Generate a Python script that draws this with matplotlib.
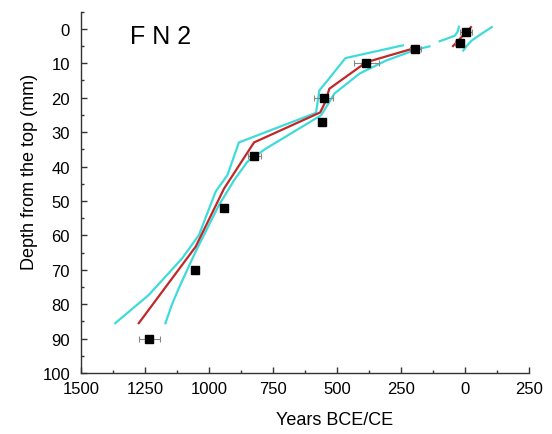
import matplotlib
matplotlib.use("Agg")
import matplotlib.pyplot as plt
from matplotlib.ticker import MultipleLocator, FuncFormatter

plt.rcParams['font.family'] = ['Liberation Sans', 'DejaVu Sans']

# dated samples (years: BCE negative, CE positive; depth in mm)
sample_years = [3, -22, -195, -386, -553, -560, -824, -942, -1055, -1234]
sample_depth = [1, 4, 6, 10, 20, 27, 36.8, 52, 70, 90]
sample_err = [24, 18, 20, 48, 38, 0, 26, 0, 0, 41]

# age model, lower section
model_years = [-1275, -1053, -942, -825, -567, -547, -531, -387, -198]
model_depth = [85.5, 63.3, 46.4, 33, 24.3, 21.3, 17.4, 9.7, 5.6]
# age model, upper section
model2_years = [-48, 22]
model2_depth = [5.0, -0.5]

# confidence bounds, lower section
old_years = [-1367, -1236, -1106, -1040, -975, -929, -884, -583, -570, -538, -468, -244]
old_depth = [85.5, 77.3, 66.7, 59.9, 47.3, 42.5, 33, 24.4, 17.9, 15, 8.5, 4.8]
young_years = [-1171, -1145, -1119, -1053, -1001, -962, -903, -851, -779, -563, -511, -413, -309, -191, -140]
young_depth = [85.5, 80, 75.4, 64.7, 57, 51.2, 44, 38.6, 34.8, 25.1, 18.8, 13, 9.2, 6, 5.1]
# confidence bounds, upper section
old2_years = [-100, -70, -41, -30, -25]
old2_depth = [3.6, 2.8, 2.0, 0.8, -0.6]
young2_years = [-8, 5, 25, 60, 103]
young2_depth = [6.3, 5.0, 3.4, 1.6, -0.5]

fig = plt.figure(figsize=(5.52, 4.35), dpi=100)
ax = fig.add_axes([0.147, 0.140, 0.812, 0.831])

cyan = '#3fdbdb'
red = '#c0282a'
ax.plot(old_years, old_depth, color=cyan, lw=1.6)
ax.plot(young_years, young_depth, color=cyan, lw=1.6)
ax.plot(old2_years, old2_depth, color=cyan, lw=1.6)
ax.plot(young2_years, young2_depth, color=cyan, lw=1.6)
ax.plot(model_years, model_depth, color=red, lw=1.6)
ax.plot(model2_years, model2_depth, color=red, lw=1.6)

ax.errorbar(sample_years, sample_depth, xerr=sample_err, fmt='s', color='black',
            ms=5.5, ecolor='#888888', elinewidth=0.8, capsize=2, capthick=0.8, zorder=5)

ax.set_xlim(-1500, 250)
ax.set_ylim(100, -5)
ax.xaxis.set_major_locator(MultipleLocator(250))
ax.xaxis.set_minor_locator(MultipleLocator(125))
ax.yaxis.set_major_locator(MultipleLocator(10))
ax.yaxis.set_minor_locator(MultipleLocator(5))
ax.xaxis.set_major_formatter(FuncFormatter(lambda v, p: f"{abs(int(v))}"))

for s in ['top', 'right']:
    ax.spines[s].set_visible(False)
for s in ['left', 'bottom']:
    ax.spines[s].set_color('#333333')
    ax.spines[s].set_linewidth(1.0)

ax.tick_params(which='major', direction='in', length=4, width=1.0, color='#333333', labelsize=12)
ax.tick_params(which='minor', direction='in', length=2.2, width=1.0, color='#333333')
ax.tick_params(axis='x', which='major', pad=6)
ax.tick_params(axis='y', which='major', pad=8)

ax.set_xlabel('Years BCE/CE', fontsize=13)
ax.xaxis.set_label_coords(0.566, -0.105)
ax.set_ylabel('Depth from the top (mm)', fontsize=13)
ax.yaxis.set_label_coords(-0.096, 0.558)

ax.text(0.108, 0.965, 'F N 2', transform=ax.transAxes, fontsize=18, va='top', ha='left')

fig.savefig('out.png', dpi=100)
